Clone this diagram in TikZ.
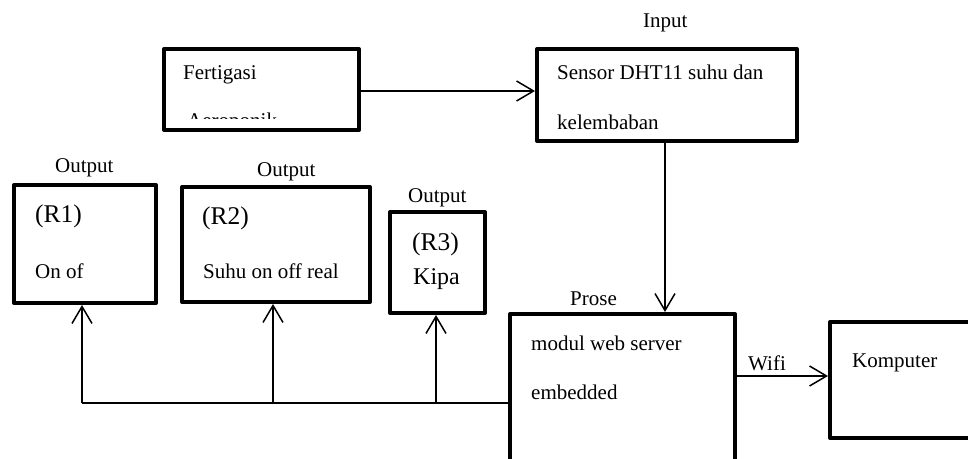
\documentclass[tikz,border=0pt]{standalone}
\usepackage{fontspec}
\setmainfont{Liberation Serif}
\usetikzlibrary{arrows.meta,positioning}

\begin{document}
\begin{tikzpicture}[x=1pt,y=-1pt,
    block/.style={draw,line width=4pt,line join=round,rectangle,inner sep=0pt},
    txt/.style={anchor=base west,inner sep=0pt,font=\fontsize{21}{25}\selectfont},
    big/.style={txt,font=\fontsize{25.5}{30}\selectfont},
    conn/.style={line width=1.5pt},
    arr/.style={conn,-{Straight Barb[length=17pt,width=20pt,line width=1.5pt]}}]
  \useasboundingbox (0,0) rectangle (968,458);

  % blocks
  \node[block,minimum width=195pt,minimum height=81pt] (fert) at (261.5,89.5) {};
  \node[block,minimum width=260pt,minimum height=92pt] (sensor) at (667,95) {};
  \node[block,minimum width=225pt,minimum height=186pt] (prose) at (622.5,407) {};
  \node[block,minimum width=170pt,minimum height=116pt] (komp) at (915,380) {};
  \node[block,minimum width=142pt,minimum height=118pt] (r1) at (85,244) {};
  \node[block,minimum width=188pt,minimum height=115pt] (r2) at (276,244.5) {};
  \node[block,minimum width=95pt,minimum height=101pt] (r3) at (437.5,262.5) {};

  % texts
  \node[txt] (fertA) at (183,79) {Fertigasi};
  \begin{scope}
    \clip ([shift={(4pt,-4pt)}]fert.north west) rectangle (fert.east |- 0,118);
    \node[txt] (fertB) at (187,127) {Aeroponik};
  \end{scope}
  \node[txt] (inLbl) at (643,27) {Input};
  \node[txt] (sensA) at (557,79) {Sensor DHT11 suhu dan};
  \node[txt] (sensB) at (557,129) {kelembaban};
  \node[txt] (proLbl) at (570,305) {Prose};
  \node[txt] (proA) at (531,350) {modul web server};
  \node[txt] (proB) at (531,399) {embedded};
  \node[txt] (wifi) at (748,370) {Wifi};
  \node[txt] (kompA) at (852,367) {Komputer};

  \node[txt] (out1) at (55,172) {Output};
  \node[big] (r1A) at (35,222) {(R1)};
  \node[txt] (r1B) at (35,278) {On of};
  \node[txt] (out2) at (257,176) {Output};
  \node[big] (r2A) at (202,224) {(R2)};
  \node[txt] (r2B) at (203,278) {Suhu on off real};
  \node[txt] (out3) at (408,202) {Output};
  \node[big] (r3A) at (412,250) {(R3)};
  \node[txt,font=\fontsize{24}{28}\selectfont] (r3B) at (413,284) {Kipa};

  % connectors
  \draw[arr] (fert.east |- 0,91) -- (sensor.west |- 0,91);
  \draw[arr] (sensor.south -| 665,0) -- (prose.north -| 665,0);
  \draw[arr] (prose.east |- 0,376) -- (komp.west |- 0,376);
  \coordinate (bus) at (82,403);
  \draw[conn] (prose.west |- bus) -- (bus);
  \draw[arr] (bus) -- (r1.south -| bus);
  \draw[arr] (273,403) -- (r2.south -| 273,0);
  \draw[arr] (436,403) -- (r3.south -| 436,0);
\end{tikzpicture}
\end{document}
